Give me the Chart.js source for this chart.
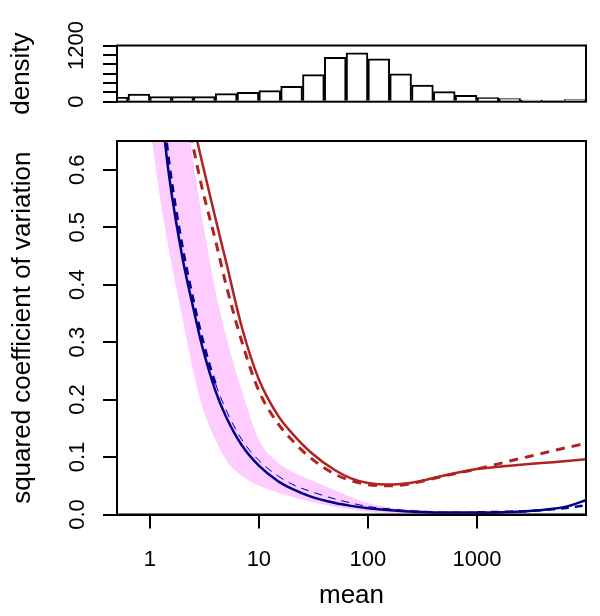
<!DOCTYPE html>
<html><head><meta charset="utf-8">
<script src="https://cdn.jsdelivr.net/npm/chart.js@4"></script>
<style>
html,body{margin:0;padding:0;background:#fff;}
#wrap{position:relative;width:600px;height:616px;background:#fff;}
#c1{position:absolute;left:0;top:0;}
#c2{position:absolute;left:0;top:125px;}
</style></head><body>
<div id="wrap"><canvas id="c1" width="600" height="125"></canvas><canvas id="c2" width="600" height="491"></canvas></div>
<script>
// ---- histogram (top panel): bin centres on log10(mean) ----
const binCentersLog10 = [-0.3,-0.1,0.1,0.3,0.5,0.7,0.9,1.1,1.3,1.5,1.7,1.9,2.1,2.3,2.5,2.7,2.9,3.1,3.3,3.5,3.7,3.9];
const binCounts = [94,165,107,107,107,171,200,236,329,579,950,1043,914,593,357,214,136,86,64,36,21,43];
const densityTicks = [0,200,400,600,800,1000,1200];
const densityLabels = [0,1200];

// ---- main panel ----
const xTicks = [1,10,100,1000];
const yTicks = [0,0.1,0.2,0.3,0.4,0.5,0.6];

const blueMean = [1.3,1.5,2,2.5,3,4,5,7,10,15,20,30,50,70,100,200,300,500,1000,2000,3000,5000,7000,10000];
const blueSolid = [0.69,0.59,0.445,0.36,0.295,0.215,0.17,0.12,0.085,0.058,0.045,0.031,0.02,0.015,0.011,0.006,0.0045,0.0035,0.0035,0.0045,0.006,0.01,0.015,0.025];
const blueDashed = [0.72,0.615,0.465,0.375,0.31,0.228,0.182,0.13,0.094,0.067,0.053,0.04,0.027,0.02,0.014,0.008,0.006,0.004,0.004,0.005,0.006,0.009,0.012,0.016];

const redSolidMean = [2.5,3,4,5,7,10,15,20,30,50,70,100,150,200,300,500,1000,2000,3000,5000,10000];
const redSolid = [0.68,0.615,0.515,0.44,0.325,0.235,0.172,0.142,0.108,0.077,0.063,0.055,0.052,0.053,0.058,0.068,0.079,0.085,0.088,0.091,0.096];
const redDashedMean = [2.2,3,4,5,7,10,15,20,30,50,70,100,150,200,300,500,1000,2000,3000,5000,10000];
const redDashed = [0.69,0.57,0.477,0.40,0.30,0.215,0.158,0.13,0.098,0.07,0.059,0.052,0.05,0.051,0.057,0.067,0.079,0.093,0.101,0.111,0.124];

const bandMean = [1,1.2,1.5,2,2.5,3,4,5,7,10,15,20,30,50,70,100,200,500,1000,2000,5000,10000];
const bandUpper = [1.55,1.29,1.03,0.77,0.615,0.52,0.39,0.31,0.215,0.13,0.09,0.075,0.06,0.042,0.03,0.02,0.01,0.006,0.004,0.003,0.003,0.003];
const bandLower = [0.68,0.57,0.46,0.34,0.25,0.19,0.13,0.095,0.067,0.05,0.038,0.031,0.022,0.013,0.009,0.005,0.002,0.001,0.0005,0,0,0];

const FONT = "'Liberation Sans', Arial, Helvetica, sans-serif";
const BLUE = '#00008B', RED = '#B22222', PINK = '#FFCCFF';

const boxPlugin = {id:'box', afterDraw(chart){
  const {ctx, chartArea:a} = chart;
  ctx.save(); ctx.strokeStyle='#000'; ctx.lineWidth=2;
  ctx.strokeRect(a.left, a.top, a.right-a.left, a.bottom-a.top);
  ctx.restore();
}};

const pts = (xs, ys) => xs.map((x,i)=>({x, y: ys[i]}));
const axisGrid = {drawOnChartArea:false, drawTicks:true, tickLength:14, lineWidth:2, color:'#000'};
const fixY = s => { s.width = 117; s.paddingTop = 0; s.paddingBottom = 0; };

new Chart(document.getElementById('c1'), {
  type:'bar',
  data:{ datasets:[{ data: pts(binCentersLog10, binCounts), backgroundColor:'#fff', borderColor:'#000', borderWidth:2, barPercentage:1, categoryPercentage:1 }]},
  options:{
    responsive:false, animation:false,
    layout:{padding:{top:45.5, right:14, bottom:23.3, left:0}},
    plugins:{legend:{display:false}, tooltip:{enabled:false}},
    scales:{
      x:{type:'linear', display:false, offset:false, min:Math.log10(0.5), max:4},
      y:{min:0, max:1200,
        afterBuildTicks: s => { s.ticks = densityTicks.map(v=>({value:v})); },
        afterFit: fixY,
        ticks:{autoSkip:false, minRotation:90, maxRotation:90, crossAlign:'center', padding:2,
          callback: v => densityLabels.includes(v) ? String(v) : '',
          font:{family:FONT, size:22}, color:'#000'},
        grid: axisGrid, border:{display:true, color:'#000', width:2},
        title:{display:true, text:'density', color:'#000', font:{family:FONT, size:26, lineHeight:1}, padding:{top:9,bottom:0}}
      }
    }
  },
  plugins:[boxPlugin]
});

const thinMid = ctx => { const m = ctx.p0.parsed.x; return (m >= 4 && m < 1000) ? 1 : 2.5; };

new Chart(document.getElementById('c2'), {
  type:'line',
  data:{ datasets:[
    {data: pts(blueMean, blueSolid), borderColor:BLUE, borderWidth:2.5, pointRadius:0, cubicInterpolationMode:'monotone', fill:false},
    {data: pts(blueMean, blueDashed), borderColor:BLUE, borderWidth:2.5, borderDash:[8,6], pointRadius:0, cubicInterpolationMode:'monotone', fill:false,
      segment:{borderWidth: thinMid}},
    {data: pts(redSolidMean, redSolid), borderColor:RED, borderWidth:2.5, pointRadius:0, cubicInterpolationMode:'monotone', fill:false},
    {data: pts(redDashedMean, redDashed), borderColor:RED, borderWidth:3, borderDash:[9,7], pointRadius:0, cubicInterpolationMode:'monotone', fill:false},
    {data: pts(bandMean, bandUpper), borderWidth:0, borderColor:PINK, backgroundColor:PINK, pointRadius:0, cubicInterpolationMode:'monotone', fill:'+1'},
    {data: pts(bandMean, bandLower), borderWidth:0, borderColor:PINK, pointRadius:0, cubicInterpolationMode:'monotone', fill:false}
  ]},
  options:{
    responsive:false, animation:false,
    layout:{padding:{top:16, right:14, bottom:0, left:0}},
    plugins:{legend:{display:false}, tooltip:{enabled:false}, filler:{drawTime:'beforeDatasetsDraw'}},
    scales:{
      x:{type:'logarithmic', min:0.5, max:10000,
        afterBuildTicks: s => { s.ticks = xTicks.map(v=>({value:v})); },
        afterFit: s => { s.height = 101.5; s.paddingLeft = 0; s.paddingRight = 0; },
        ticks:{autoSkip:false, maxRotation:0, minRotation:0, padding:18, callback: v => String(v),
          font:{family:FONT, size:22}, color:'#000'},
        grid: axisGrid, border:{display:true, color:'#000', width:2},
        title:{display:true, text:'mean', color:'#000', font:{family:FONT, size:26, lineHeight:1}, padding:{top:0,bottom:7}}
      },
      y:{min:0, max:0.65,
        afterBuildTicks: s => { s.ticks = yTicks.map(v=>({value:v})); },
        afterFit: fixY,
        ticks:{autoSkip:false, minRotation:90, maxRotation:90, crossAlign:'center', padding:10,
          callback: v => v.toFixed(1), font:{family:FONT, size:22}, color:'#000'},
        grid: axisGrid, border:{display:true, color:'#000', width:2},
        title:{display:true, text:'squared coefficient of variation', color:'#000', font:{family:FONT, size:26, lineHeight:1}, padding:{top:10,bottom:0}}
      }
    }
  },
  plugins:[boxPlugin]
});
</script>
</body></html>
